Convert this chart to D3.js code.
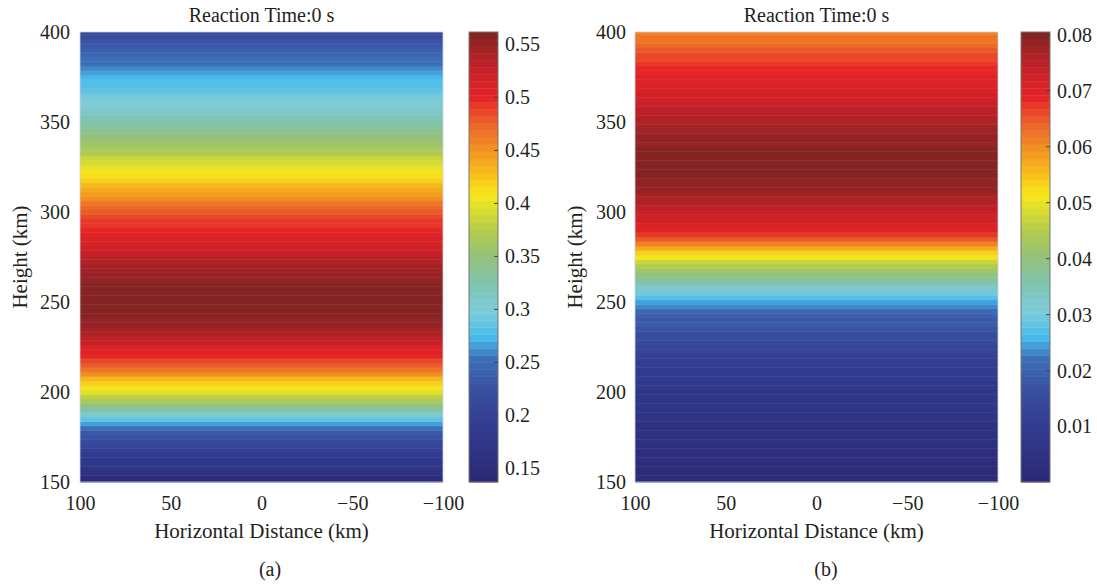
<!DOCTYPE html>
<html>
<head>
<meta charset="utf-8">
<script src="https://cdn.jsdelivr.net/npm/d3@7"></script>
<style>
  body { margin: 0; background: #fff; }
  svg text { font-family: "Liberation Serif", "DejaVu Serif", serif; fill: #231f20; }
</style>
</head>
<body>
<div id="chart"></div>
<script>
// row heights (km), 150..400 every 2.5 km
const heights = d3.range(150, 400.01, 2.5);

// panel (a) profile, constant along horizontal distance
const valuesA = [
  0.142, 0.150, 0.158, 0.165, 0.173, 0.180, 0.188, 0.196, 0.204, 0.213,
  0.224, 0.236, 0.250, 0.266, 0.284, 0.304, 0.325, 0.346, 0.366, 0.382,
  0.396, 0.408, 0.420, 0.435, 0.450, 0.463, 0.476, 0.487, 0.497, 0.506,
  0.515, 0.523, 0.531, 0.538, 0.544, 0.549, 0.553, 0.556, 0.558, 0.559,
  0.560, 0.560, 0.560, 0.559, 0.557, 0.555, 0.552, 0.548, 0.543, 0.538,
  0.532, 0.526, 0.520, 0.515, 0.510, 0.505, 0.500, 0.495, 0.489, 0.484,
  0.478, 0.471, 0.463, 0.455, 0.447, 0.439, 0.430, 0.421, 0.413, 0.405,
  0.398, 0.390, 0.383, 0.375, 0.368, 0.361, 0.355, 0.347, 0.340, 0.334,
  0.328, 0.321, 0.315, 0.309, 0.303, 0.297, 0.292, 0.287, 0.282, 0.277,
  0.272, 0.267, 0.262, 0.256, 0.250, 0.244, 0.237, 0.231, 0.225, 0.220, 0.215];

// panel (b) profile
const valuesB = [
  0.0012, 0.0015, 0.0018, 0.0021, 0.0024, 0.0027, 0.0030, 0.0033, 0.0036, 0.0039,
  0.0042, 0.0045, 0.0048, 0.0051, 0.0054, 0.0057, 0.0060, 0.0064, 0.0068, 0.0072,
  0.0076, 0.0080, 0.0085, 0.0090, 0.0095, 0.0101, 0.0107, 0.0114, 0.0121, 0.0129,
  0.0137, 0.0145, 0.0153, 0.0161, 0.0169, 0.0177, 0.0186, 0.0197, 0.0210, 0.0228,
  0.0250, 0.0275, 0.0300, 0.0325, 0.0350, 0.0375, 0.0400, 0.0425, 0.0450, 0.0478,
  0.0508, 0.0540, 0.0575, 0.0612, 0.0645, 0.0672, 0.0692, 0.0707, 0.0718, 0.0728,
  0.0738, 0.0748, 0.0757, 0.0766, 0.0774, 0.0781, 0.0787, 0.0792, 0.0796, 0.0799,
  0.0800, 0.0800, 0.0799, 0.0797, 0.0794, 0.0790, 0.0786, 0.0781, 0.0776, 0.0770,
  0.0764, 0.0757, 0.0750, 0.0743, 0.0736, 0.0729, 0.0722, 0.0715, 0.0708, 0.0701,
  0.0694, 0.0687, 0.0680, 0.0672, 0.0664, 0.0656, 0.0647, 0.0638, 0.0629, 0.0619, 0.0608];

const xTicks = [100, 50, 0, -50, -100];
const yTicks = [150, 200, 250, 300, 350, 400];
const cbarTicksA = [0.15, 0.2, 0.25, 0.3, 0.35, 0.4, 0.45, 0.5, 0.55];
const cbarTicksB = [0.01, 0.02, 0.03, 0.04, 0.05, 0.06, 0.07, 0.08];
const cbarDomainA = [0.1372, 0.5617];
const cbarDomainB = [0.0001, 0.0805];

// jet-like colormap as printed
const cmapStops = [0, 0.12, 0.2, 0.27, 0.32, 0.38, 0.44, 0.5, 0.56, 0.64, 0.7, 0.74, 0.8, 0.86, 0.93, 1];
const cmapColors = ["#2b2a77", "#323c91", "#3a4fa0", "#3d6fb9", "#47bdeb", "#7ccbd8", "#7fc4b0", "#94c27a",
  "#b3cc4c", "#f7e81b", "#f7b51d", "#f2941f", "#eb6328", "#e52326", "#c22127", "#862424"];
const nLevels = 64;

const W = 1097, H = 584;
const svg = d3.select("#chart").append("svg")
  .attr("width", W).attr("height", H);
svg.append("rect").attr("width", W).attr("height", H).attr("fill", "#fff");

const cmap = d3.scaleLinear().domain(cmapStops).range(cmapColors).interpolate(d3.interpolateRgb);
function levelColor(n) {
  n = Math.max(0, Math.min(1, n));
  const k = Math.min(nLevels - 1, Math.floor(n * nLevels));
  return cmap(k / (nLevels - 1));
}

function styleTicks(sel) {
  sel.select(".domain").remove();
  sel.selectAll("text").style("font-size", "20px").attr("fill", "#231f20")
    .attr("font-family", "Liberation Serif");
}

function drawPanel(cfg) {
  const g = svg.append("g");
  const x = d3.scaleLinear().domain([100, -100]).range([cfg.left, cfg.right]);
  const y = d3.scaleLinear().domain([150, 400]).range([482, 32]);
  const c = d3.scaleLinear().domain(cfg.cDomain).range([0, 1]);
  const half = 1.25;

  // field rows
  g.selectAll(".row")
    .data(heights.map((h, i) => ({h: h, v: cfg.values[i]})))
    .join("rect")
    .attr("class", "row")
    .attr("x", x(100))
    .attr("width", x(-100) - x(100))
    .attr("y", d => y(Math.min(400, d.h + half)))
    .attr("height", d => y(Math.max(150, d.h - half)) - y(Math.min(400, d.h + half)) + 0.5)
    .attr("fill", d => levelColor(c(d.v)));

  // thin light frame
  g.append("rect")
    .attr("x", x(100)).attr("y", y(400))
    .attr("width", x(-100) - x(100)).attr("height", y(150) - y(400))
    .attr("fill", "none").attr("stroke", "#c9d3e6").attr("stroke-width", 0.8);

  // axes (labels only, as in the figure)
  g.append("g").attr("transform", "translate(0,482)")
    .call(d3.axisBottom(x).tickValues(xTicks).tickSize(0).tickPadding(14))
    .call(styleTicks);
  g.append("g").attr("transform", `translate(${cfg.left},0)`)
    .call(d3.axisLeft(y).tickValues(yTicks).tickSize(0).tickPadding(cfg.left - cfg.yLabelRight))
    .call(styleTicks);

  const mid = (cfg.left + cfg.right) / 2;
  g.append("text").attr("x", mid).attr("y", 22).attr("text-anchor", "middle")
    .style("font-size", "20px").text("Reaction Time:0 s");
  g.append("text").attr("x", mid).attr("y", 538).attr("text-anchor", "middle")
    .style("font-size", "21px").text("Horizontal Distance (km)");
  g.append("text").attr("transform", `translate(${cfg.yTitleX},257) rotate(-90)`)
    .attr("text-anchor", "middle").style("font-size", "21px").text("Height (km)");
  g.append("text").attr("x", cfg.subX).attr("y", 576).attr("text-anchor", "middle")
    .style("font-size", "20px").text(cfg.sub);

  // colorbar
  const cy = d3.scaleLinear().domain(cfg.cDomain).range([482, 32]);
  const cb = g.append("g");
  const step = 450 / nLevels;
  cb.selectAll(".lev").data(d3.range(nLevels)).join("rect")
    .attr("class", "lev")
    .attr("x", cfg.cbLeft).attr("width", cfg.cbWidth)
    .attr("y", k => 482 - (k + 1) * step).attr("height", step + 0.4)
    .attr("fill", k => cmap(k / (nLevels - 1)));
  cb.append("rect").attr("x", cfg.cbLeft).attr("y", 32)
    .attr("width", cfg.cbWidth).attr("height", 450)
    .attr("fill", "none").attr("stroke", "#777").attr("stroke-width", 1);
  cb.append("g").attr("transform", `translate(${cfg.cbLeft + cfg.cbWidth},0)`)
    .call(d3.axisRight(cy).tickValues(cfg.cTicks).tickSize(0).tickPadding(7).tickFormat(d3.format("~g")))
    .call(styleTicks);
  cb.selectAll(".ctick").data(cfg.cTicks).join("line")
    .attr("class", "ctick")
    .attr("x1", cfg.cbLeft + cfg.cbWidth - 4).attr("x2", cfg.cbLeft + cfg.cbWidth)
    .attr("y1", d => cy(d)).attr("y2", d => cy(d))
    .attr("stroke", "#444").attr("stroke-width", 1);
}

drawPanel({values: valuesA, cDomain: cbarDomainA, cTicks: cbarTicksA,
  left: 80, right: 443, yLabelRight: 70, yTitleX: 27,
  cbLeft: 469, cbWidth: 29, sub: "(a)", subX: 270});
drawPanel({values: valuesB, cDomain: cbarDomainB, cTicks: cbarTicksB,
  left: 635, right: 998, yLabelRight: 626, yTitleX: 582,
  cbLeft: 1021, cbWidth: 29, sub: "(b)", subX: 826});
</script>
</body>
</html>
